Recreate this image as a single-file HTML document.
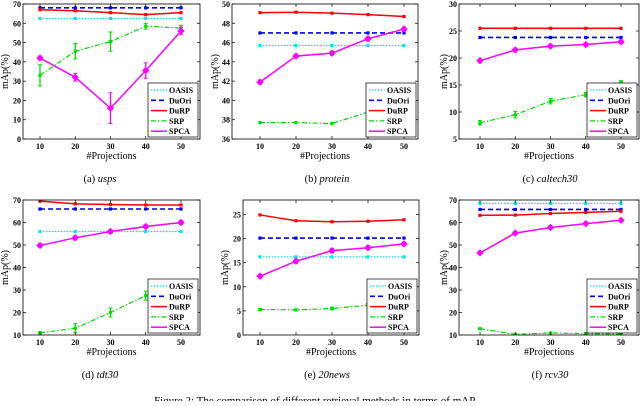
<!DOCTYPE html>
<html><head><meta charset="utf-8"><style>
body{margin:0;background:#fff;width:640px;height:401px;overflow:hidden}
svg text{font-family:"Liberation Serif",serif;fill:#000}
</style></head><body>
<svg id="c" width="640" height="401"></svg>
<script>
const xs=[10,20,30,40,50];
const seriesNames=["OASIS","DuOri","DuRP","SRP","SPCA"];
const aOASIS=[62.5,62.5,62.5,62.5,62.5],aDuOri=[68,68,68,68,68],aDuRP=[67,66.5,65.5,64.5,65.5],aSRP=[33,45.5,50.5,58.5,57.5],aSRPerr=[5.5,4,5,1.5,1.5],aSPCA=[42,32,16,35.5,56],aSPCAerr=[1,2,8,4,2];
const bOASIS=[45.7,45.7,45.7,45.7,45.7],bDuOri=[47,47,47,47,47],bDuRP=[49.1,49.15,49.05,48.9,48.7],bSRP=[37.7,37.7,37.6,38.8,39.5],bSRPerr=[0,0,0,1,0.5],bSPCA=[41.9,44.6,44.9,46.4,47.4],bSPCAerr=[0.2,0.2,0.2,0.2,0.2];
const cOASIS=[31,31,31,31,31],cDuOri=[23.8,23.8,23.8,23.8,23.8],cDuRP=[25.5,25.5,25.5,25.5,25.5],cSRP=[8,9.5,12,13.2,15.5],cSRPerr=[0.4,0.6,0.5,0.4,0.3],cSPCA=[19.5,21.5,22.2,22.5,23],cSPCAerr=[0.3,0.3,0.3,0.3,0.3];
const dOASIS=[56,56,56,56,56],dDuOri=[66,66,66,66,66],dDuRP=[69.5,68.3,68,67.8,67.8],dSRP=[11,13,20,27.5,33],dSRPerr=[0.5,2,2,2,1],dSPCA=[49.8,53.2,56,58.2,60],dSPCAerr=[0.8,0.8,0.8,0.8,0.8];
const eOASIS=[16.2,16.2,16.2,16.2,16.2],eDuOri=[20.1,20.1,20.1,20.1,20.1],eDuRP=[24.9,23.7,23.5,23.6,23.9],eSRP=[5.3,5.2,5.5,6.2,7],eSRPerr=[0.2,0.2,0.3,0.3,0.3],eSPCA=[12.2,15.3,17.5,18.1,18.9],eSPCAerr=[0.4,0.4,0.4,0.4,0.4];
const fOASIS=[68.5,68.5,68.5,68.5,68.5],fDuOri=[65.8,65.8,65.8,65.8,65.8],fDuRP=[63.2,63.3,64,64.5,65],fSRP=[12.8,10.3,10.9,10.6,10.4],fSRPerr=[0.3,0.3,0.3,0.3,0.3],fSPCA=[46.5,55.3,57.8,59.5,61],fSPCAerr=[0.6,0.6,0.6,0.6,0.6];
const aTicks=[0,10,20,30,40,50,60,70],bTicks=[36,38,40,42,44,46,48,50],cTicks=[5,10,15,20,25,30],dTicks=[10,20,30,40,50,60,70],eTicks=[0,5,10,15,20,25],fTicks=[10,20,30,40,50,60,70];
const captions=["(a) ","(b) ","(c) ","(d) ","(e) ","(f) "],capNames=["usps","protein","caltech30","tdt30","20news","rcv30"];

const NS="http://www.w3.org/2000/svg",svg=document.getElementById('c');
function mk(t,a,p){const e=document.createElementNS(NS,t);for(const k in a)e.setAttribute(k,a[k]);(p||svg).appendChild(e);return e;}
const panels=[
 {L:23,R:200,T:4,B:139,x0:40,x1:181,ymin:0,ymax:70,ticks:aTicks,d:[aOASIS,aDuOri,aDuRP,aSRP,aSPCA],se:aSRPerr,pe:aSPCAerr,cx:100,cy:182,yl:8},
 {L:232,R:418,T:4,B:139,x0:260,x1:404,ymin:36,ymax:50,ticks:bTicks,d:[bOASIS,bDuOri,bDuRP,bSRP,bSPCA],se:bSRPerr,pe:bSPCAerr,cx:327,cy:182,yl:218},
 {L:459,R:639,T:4,B:139,x0:480,x1:621,ymin:5,ymax:30,ticks:cTicks,d:[cOASIS,cDuOri,cDuRP,cSRP,cSPCA],se:cSRPerr,pe:cSPCAerr,cx:550,cy:182,yl:447},
 {L:23,R:200,T:200,B:335,x0:40,x1:181,ymin:10,ymax:70,ticks:dTicks,d:[dOASIS,dDuOri,dDuRP,dSRP,dSPCA],se:dSRPerr,pe:dSPCAerr,cx:100,cy:378,yl:8},
 {L:243,R:419,T:200,B:335,x0:260,x1:404,ymin:0,ymax:28,ticks:eTicks,d:[eOASIS,eDuOri,eDuRP,eSRP,eSPCA],se:eSRPerr,pe:eSPCAerr,cx:327,cy:378,yl:228},
 {L:459,R:639,T:200,B:335,x0:480,x1:621,ymin:10,ymax:70,ticks:fTicks,d:[fOASIS,fDuOri,fDuRP,fSRP,fSPCA],se:fSRPerr,pe:fSPCAerr,cx:550,cy:378,yl:447}];
const cols=["#00e5ee","#0000ff","#ff0000","#00dd00","#ff00ff"];
const dashes=["1.5,1.5","5,3","","5,2,1.5,2",""];
const widths=[1.2,1.6,1.5,1.2,1.5];
panels.forEach((p,i)=>{
 const g=mk('g',{});
 
 
 const X=v=>p.x0+(v-10)/40*(p.x1-p.x0);
 const Y=v=>p.B-(v-p.ymin)/(p.ymax-p.ymin)*(p.B-p.T);
 const cp=mk('clipPath',{id:'cp'+i},g);mk('rect',{x:p.L,y:p.T,width:p.R-p.L,height:p.B-p.T},cp);
 const plot=mk('g',{'clip-path':'url(#cp'+i+')'},g);
 p.d.forEach((arr,s)=>{
  const pts=arr.map((v,k)=>X(xs[k])+','+Y(v)).join(' ');
  const l=mk('polyline',{points:pts,fill:'none',stroke:cols[s],'stroke-width':widths[s],'stroke-dasharray':dashes[s]},plot);
  
  
  arr.forEach((v,k)=>{
   const e=s==3?p.se[k]:s==4?p.pe[k]:0;
   const cx=X(xs[k]);
   if(e>0){mk('line',{x1:cx,x2:cx,y1:Y(v-e),y2:Y(v+e),stroke:cols[s],'stroke-width':1.3},plot);
    mk('line',{x1:cx-2,x2:cx+2,y1:Y(v-e),y2:Y(v-e),stroke:cols[s]},plot);
    mk('line',{x1:cx-2,x2:cx+2,y1:Y(v+e),y2:Y(v+e),stroke:cols[s]},plot);}
   const r=s==4?2.6:1.6;
   const m=mk('rect',{x:cx-r,y:Y(v)-r,width:2*r,height:2*r,fill:cols[s],transform:s==4?'rotate(45 '+cx+' '+Y(v)+')':''},plot);
   
   
  });
 });
 mk('rect',{x:p.L,y:p.T,width:p.R-p.L,height:p.B-p.T,fill:'none',stroke:'#000','stroke-width':0.8},g);
 p.ticks.forEach(t=>{const y=Y(t);mk('line',{x1:p.L,x2:p.L+3,y1:y,y2:y,stroke:'#000','stroke-width':0.7},g);mk('line',{x1:p.R,x2:p.R-3,y1:y,y2:y,stroke:'#000','stroke-width':0.7},g);
  const tx=mk('text',{x:p.L-2,y:y+3,'font-size':8,'text-anchor':'end','font-weight':'bold'},g);tx.textContent=t;});
 xs.forEach(v=>{const x=X(v);mk('line',{x1:x,x2:x,y1:p.B,y2:p.B-3,stroke:'#000','stroke-width':0.7},g);mk('line',{x1:x,x2:x,y1:p.T,y2:p.T+3,stroke:'#000','stroke-width':0.7},g);
  const tx=mk('text',{x:x,y:p.B+10,'font-size':8,'text-anchor':'middle','font-weight':'bold'},g);tx.textContent=v;});
 const xl=mk('text',{x:(p.L+p.R)/2,y:p.B+20,'font-size':10,'text-anchor':'middle'},g);xl.textContent='#Projections';
 
 const yc=(p.T+p.B)/2;
 const yl=mk('text',{x:p.yl,y:yc,'font-size':10,'text-anchor':'middle',transform:'rotate(-90 '+p.yl+' '+yc+')'},g);yl.textContent='mAp(%)';
 
 const lx=p.R-52,ly=p.B-56;
 const lg=mk('g',{},g);
 mk('rect',{x:lx,y:ly,width:50,height:54,fill:'#fff',stroke:'#000','stroke-width':0.7},lg);
 seriesNames.forEach((n,s)=>{const yy=ly+7+s*10.3;
  mk('line',{x1:lx+3,x2:lx+19,y1:yy,y2:yy,stroke:cols[s],'stroke-width':widths[s],'stroke-dasharray':dashes[s]},lg);
  const t=mk('text',{x:lx+21,y:yy+3,'font-size':8,'font-weight':'bold'},lg);t.textContent=n;});
 const cap=mk('text',{x:p.cx,y:p.cy,'font-size':10.5,'text-anchor':'middle'},g);
 
 cap.textContent=captions[i];const ts=mk('tspan',{'font-style':'italic'},cap);ts.textContent=capNames[i];
});
const fc=mk('text',{x:320,y:404,'font-size':11,'text-anchor':'middle'});

fc.textContent='Figure 2: The comparison of different retrieval methods in terms of mAP ...';
</script>
</body></html>
